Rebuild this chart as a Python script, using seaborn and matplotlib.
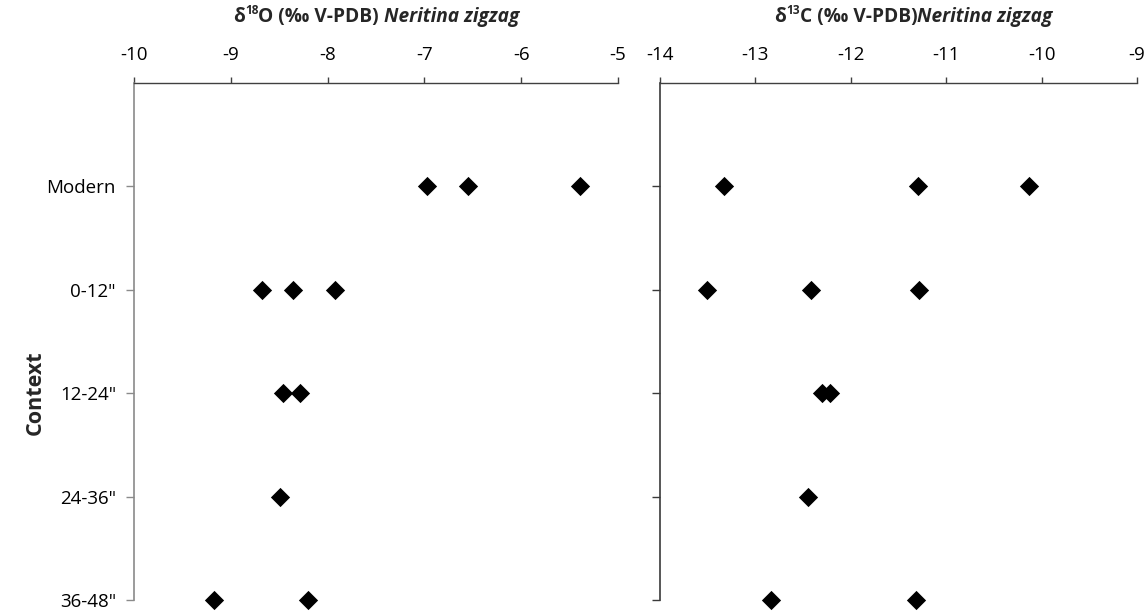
import matplotlib
matplotlib.use("Agg")
import matplotlib.pyplot as plt
import seaborn as sns

# Stratigraphic contexts, top (modern) to bottom (deepest)
contexts = ["Modern", "0-12\"", "12-24\"", "24-36\"", "36-48\""]

# One entry per shell sample
sample_context = ["Modern", "Modern", "Modern",
                  "0-12\"", "0-12\"", "0-12\"",
                  "12-24\"", "12-24\"",
                  "24-36\"",
                  "36-48\"", "36-48\""]
d18O = [-6.97, -6.55, -5.39,
        -8.68, -8.36, -7.92,
        -8.46, -8.28,
        -8.49,
        -9.17, -8.20]
d13C = [-13.33, -11.30, -10.13,
        -13.51, -12.42, -11.29,
        -12.30, -12.22,
        -12.45,
        -12.84, -11.32]

o_ticks = [-10, -9, -8, -7, -6, -5]
c_ticks = [-14, -13, -12, -11, -10, -9]

sns.set_theme(style="white")
plt.rcParams["font.family"] = ["Open Sans", "DejaVu Sans"]

W, H = 1148, 614
fig = plt.figure(figsize=(W / 100, H / 100), dpi=100)
fig.patch.set_facecolor("white")

ax_o = fig.add_axes([134 / W, 14 / H, 484 / W, 517 / H])
ax_c = fig.add_axes([660 / W, 14 / H, 477 / W, 517 / H])


def draw_panel(ax, values, ticks, yspine_color, show_labels):
    sns.stripplot(x=values, y=sample_context, order=contexts, jitter=False,
                  marker="D", color="black", size=9.8, linewidth=0, ax=ax)
    for coll in ax.collections:
        coll.set_clip_on(False)
    ax.set_xlim(ticks[0], ticks[-1])
    ax.set_xticks(ticks)
    ax.set_xticklabels([str(t) for t in ticks])
    ax.set_ylim(4, -1)
    ax.set_yticks(range(len(contexts)))
    ax.set_yticklabels(contexts if show_labels else [])
    ax.set_xlabel("")
    ax.set_ylabel("")
    ax.xaxis.tick_top()
    ax.tick_params(axis="x", top=True, bottom=False, labeltop=True,
                   labelbottom=False, direction="out", length=4, width=1,
                   color="#404040", pad=10, labelsize=13.5, labelcolor="black")
    ax.tick_params(axis="y", left=True, right=False, direction="out",
                   length=6, width=1, color=yspine_color, pad=7,
                   labelsize=13.5, labelcolor="black")
    for side in ("right", "bottom"):
        ax.spines[side].set_visible(False)
    ax.spines["top"].set_color("#404040")
    ax.spines["top"].set_linewidth(1)
    ax.spines["left"].set_color(yspine_color)
    ax.spines["left"].set_linewidth(1.2)
    ax.grid(False)


draw_panel(ax_o, d18O, o_ticks, "#8a8a8a", True)
draw_panel(ax_c, d13C, c_ticks, "#3a3a3a", False)


def title(x_px, isotope, element, tail_gap):
    size = 13.8
    t0 = fig.text(x_px / W, 1 - 22 / H, "δ", fontsize=size,
                  fontweight="bold", va="baseline", ha="left")
    sup = plt.annotate(isotope, xy=(1, 0.48), xycoords=t0, va="bottom",
                       ha="left", fontsize=size * 0.62, fontweight="bold",
                       annotation_clip=False)
    main = plt.annotate(element + " (‰ V-PDB)" + tail_gap, xy=(1, 0),
                        xycoords=(sup, t0), va="bottom", ha="left",
                        fontsize=size, fontweight="bold",
                        annotation_clip=False)
    plt.annotate("Neritina zigzag", xy=(1, 0), xycoords=main, va="bottom",
                 ha="left", fontsize=size, fontweight="bold",
                 fontstyle="italic", annotation_clip=False)


title(233, "18", "O", " ")
title(774, "13", "C", "")

fig.text(35 / W, 1 - 393 / H, "Context", rotation=90, fontsize=15.5,
         fontweight="bold", ha="center", va="center")

fig.savefig("out.png", dpi=100, facecolor="white")
